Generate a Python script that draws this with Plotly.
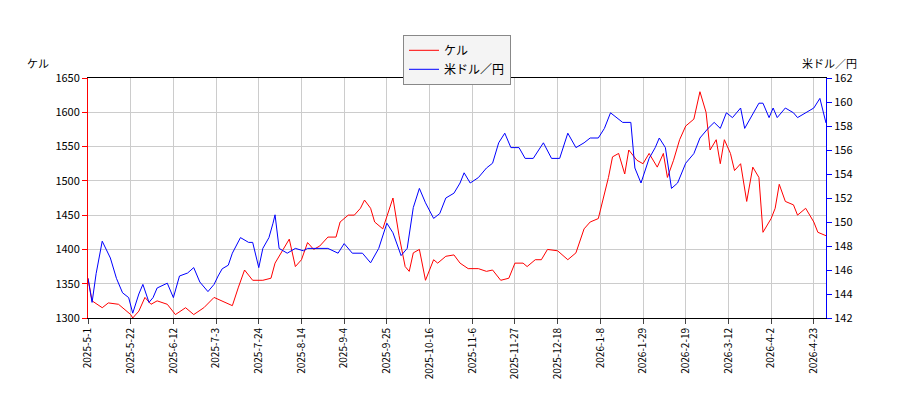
import pandas as pd
import plotly.graph_objects as go

start = pd.Timestamp("2025-05-01")

kel_days = [0, 2, 7, 10, 15, 17, 21, 22, 25, 28, 31, 34, 39, 43, 48, 52, 57, 62, 66, 71, 74, 77, 81, 86, 90, 92,
            96, 99, 102, 105, 108, 111, 114, 118, 122, 124, 128, 131, 134, 136, 139, 141, 145, 150, 153, 156, 158,
            160, 163, 166, 170, 172, 176, 180, 183, 187, 192, 196, 199, 203, 207, 210, 214, 216, 220, 223, 226,
            231, 236, 240, 244, 247, 251, 254, 256, 258, 261, 264, 266, 270, 273, 276, 280, 283, 285, 288, 291,
            294, 298, 301, 304, 306, 309, 311, 313, 316, 318, 321, 324, 327, 330, 332, 336, 338, 340, 343, 347,
            349, 353, 357, 359, 363]
kel_values = [1358, 1325, 1315, 1322, 1320, 1315, 1305, 1300, 1310, 1330, 1320, 1325, 1320, 1305, 1315, 1305,
              1315, 1330, 1325, 1318, 1345, 1370, 1355, 1355, 1358, 1380, 1400, 1415, 1375, 1385, 1410, 1400,
              1405, 1418, 1418, 1440, 1450, 1450, 1460, 1472, 1460, 1440, 1430, 1475, 1420, 1375, 1368, 1395,
              1400, 1355, 1385, 1380, 1390, 1392, 1380, 1372, 1372, 1368, 1370, 1355, 1358, 1380, 1380, 1375,
              1385, 1385, 1400, 1398, 1385, 1395, 1430, 1440, 1445, 1480, 1505, 1535, 1540, 1510, 1545, 1530,
              1525, 1540, 1520, 1540, 1505, 1530, 1560, 1580, 1590, 1630, 1600, 1545, 1560, 1525, 1560, 1540,
              1515, 1525, 1470, 1520, 1505, 1425, 1445, 1460, 1495, 1470, 1465, 1450, 1460, 1440, 1425, 1420]

usd_days = [0, 2, 4, 7, 11, 14, 17, 20, 22, 25, 27, 30, 32, 34, 39, 42, 45, 49, 52, 55, 59, 62, 64, 66, 69, 71,
            75, 79, 81, 84, 86, 89, 91, 92, 94, 98, 102, 106, 108, 113, 118, 123, 126, 130, 135, 139, 143, 147,
            150, 154, 157, 160, 163, 166, 170, 173, 176, 180, 183, 185, 188, 192, 196, 199, 202, 205, 208, 212,
            215, 219, 224, 228, 232, 236, 240, 244, 247, 251, 254, 257, 260, 263, 267, 269, 272, 276, 279, 281,
            284, 287, 290, 294, 298, 301, 305, 308, 311, 314, 317, 321, 323, 326, 330, 332, 335, 337, 339, 343,
            347, 349, 353, 357, 360, 363]
usd_values = [145.3, 143.3, 145.7, 148.4, 147.0, 145.3, 144.1, 143.7, 142.4, 144.0, 144.8, 143.3, 143.7, 144.5,
              144.9, 143.7, 145.5, 145.75, 146.2, 145.0, 144.2, 144.8, 145.5, 146.1, 146.4, 147.4, 148.7, 148.3,
              148.3, 146.2, 147.8, 148.7, 149.9, 150.6, 147.8, 147.4, 147.8, 147.6, 147.8, 147.8, 147.8, 147.4,
              148.2, 147.4, 147.4, 146.6, 147.8, 149.9, 149.1, 147.2, 147.8, 151.2, 152.8, 151.6, 150.3, 150.7,
              152.0, 152.4, 153.25, 154.1, 153.25, 153.7, 154.5, 154.9, 156.6, 157.4, 156.2, 156.2, 155.3, 155.3,
              156.6, 155.3, 155.3, 157.4, 156.2, 156.6, 157.0, 157.0, 157.8, 159.1, 158.7, 158.3, 158.3, 154.5,
              153.25, 155.3, 156.2, 157.0, 156.2, 152.8, 153.25, 154.9, 155.7, 157.0, 157.8, 158.3, 157.8, 159.1,
              158.7, 159.5, 157.8, 158.7, 159.9, 159.9, 158.7, 159.5, 158.7, 159.5, 159.1, 158.7, 159.1, 159.5,
              160.3, 158.25]

kel_dates = [start + pd.Timedelta(days=d) for d in kel_days]
usd_dates = [start + pd.Timedelta(days=d) for d in usd_days]
tick_dates = pd.date_range("2025-05-01", "2026-04-30", freq="21D")

fig = go.Figure()
fig.add_trace(go.Scatter(x=kel_dates, y=kel_values, name="ケル", mode="lines",
                         line=dict(color="red", width=1)))
fig.add_trace(go.Scatter(x=usd_dates, y=usd_values, name="米ドル／円", mode="lines",
                         line=dict(color="blue", width=1), yaxis="y2"))

grid = "#cccccc"
fig.update_layout(
    width=900, height=400,
    margin=dict(l=80, r=82, t=70, b=90),
    plot_bgcolor="white", paper_bgcolor="white",
    font=dict(family="Noto Sans CJK JP, DejaVu Sans", size=11, color="black"),
    showlegend=True,
    legend=dict(x=0.5, y=1.18, xanchor="center", yanchor="top",
                bordercolor="#888", borderwidth=1, bgcolor="#f4f4f4", font=dict(size=12)),
    xaxis=dict(range=[start, start + pd.Timedelta(days=363)], tickvals=tick_dates,
               ticktext=[f"{d.year}-{d.month}-{d.day}" for d in tick_dates], tickangle=-90,
               showgrid=True, gridcolor=grid, showline=True, linecolor="black", mirror=True,
               ticks="outside", tickfont=dict(size=10)),
    yaxis=dict(range=[1300, 1650], dtick=50, showgrid=True, gridcolor=grid, showline=True,
               linecolor="red", ticks="outside", tickcolor="red", tickfont=dict(size=11)),
    yaxis2=dict(range=[142, 162], dtick=2, overlaying="y", side="right", showgrid=False,
                showline=True, linecolor="blue", ticks="outside", tickcolor="blue",
                tickfont=dict(size=11)),
    annotations=[
        dict(text="ケル", x=-0.085, y=1.105, xref="paper", yref="paper", showarrow=False,
             xanchor="left", font=dict(size=11)),
        dict(text="米ドル／円", x=1.045, y=1.105, xref="paper", yref="paper", showarrow=False,
             xanchor="right", font=dict(size=11)),
    ],
)

fig.write_html("out.html")
